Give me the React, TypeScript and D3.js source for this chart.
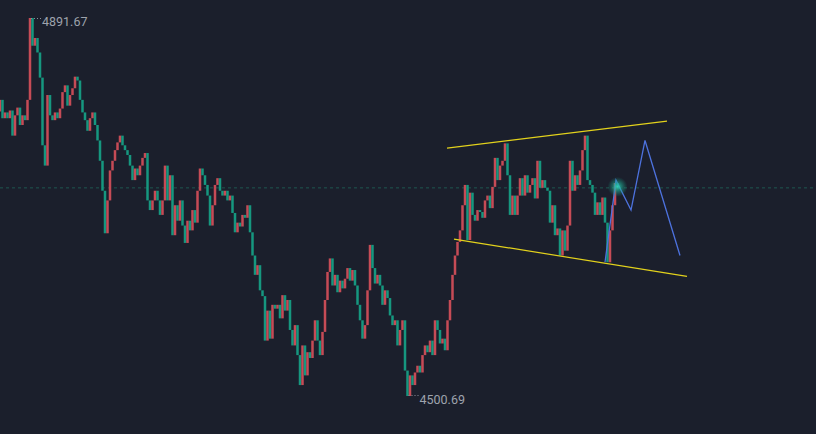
import React from "react";
import * as d3 from "d3";

const firstOpen = 4795;
const closes: number[] = [
  4807, 4788, 4794, 4788, 4796, 4770, 4791, 4799, 4781, 4791,
  4786, 4807, 4891.67, 4863, 4871, 4856, 4830, 4760, 4739, 4812,
  4791, 4786, 4794, 4788, 4798, 4815, 4822, 4801, 4812, 4819,
  4831, 4827, 4807, 4794, 4786, 4775, 4788, 4794, 4781, 4765,
  4744, 4713, 4669, 4703, 4734, 4744, 4755, 4763, 4770, 4760,
  4755, 4750, 4739, 4724, 4736, 4729, 4739, 4747, 4752, 4703,
  4693, 4703, 4713, 4703, 4688, 4703, 4739, 4703, 4729, 4667,
  4698, 4682, 4703, 4677, 4659, 4682, 4672, 4693, 4680, 4713,
  4736, 4729, 4719, 4708, 4677, 4698, 4719, 4726, 4713, 4708,
  4713, 4703, 4708, 4690, 4670, 4680, 4676, 4688, 4685, 4698,
  4670, 4646, 4626, 4636, 4610, 4604, 4558, 4589, 4560, 4595,
  4591, 4595, 4581, 4605, 4589, 4600, 4569, 4553, 4574, 4543,
  4512, 4553, 4522, 4546, 4540, 4558, 4579, 4558, 4543, 4567,
  4600, 4629, 4643, 4615, 4626, 4608, 4620, 4612, 4622, 4633,
  4620, 4631, 4615, 4595, 4579, 4560, 4574, 4610, 4657, 4633,
  4617, 4626, 4615, 4595, 4610, 4602, 4584, 4574, 4579, 4553,
  4569, 4579, 4527, 4500.69, 4522, 4512, 4525, 4532, 4525, 4543,
  4553, 4546, 4558, 4543, 4579, 4569, 4555, 4560, 4548, 4579,
  4600, 4626, 4646, 4660, 4672, 4698, 4719, 4662, 4711, 4688,
  4682, 4693, 4691, 4685, 4703, 4708, 4695, 4717, 4747, 4724,
  4739, 4744, 4762, 4729, 4688, 4708, 4688, 4708, 4726, 4708,
  4729, 4711, 4719, 4726, 4705, 4744, 4716, 4724, 4716, 4713,
  4680, 4698, 4667, 4674, 4646, 4672, 4651, 4677, 4744, 4713,
  4729, 4719, 4734, 4755, 4770, 4724, 4719, 4711, 4688, 4701,
  4688, 4706, 4680, 4639, 4672, 4698, 4721, 4717,
];

const highLabel = "4891.67";
const lowLabel = "4500.69";

// channel annotations: [candle index, price]
const upperChannel: [number, number][] = [[178.8, 4757], [266.8, 4785]];
const lowerChannel: [number, number][] = [[181.6, 4663], [274.8, 4624.5]];
const projection: [number, number][] = [
  [242, 4639], [246.4, 4724], [252.4, 4693], [258, 4765], [272, 4646],
];

const W = 816;
const H = 434;
const BG = "#1b1f2c";
const UP = "#c64b56";
const DOWN = "#16977f";

export default function App() {
  const candles = closes.map((c, i) => ({
    i,
    open: i === 0 ? firstOpen : closes[i - 1],
    close: c,
  }));
  const step = 2.5;
  const x = d3
    .scaleBand<number>()
    .domain(candles.map((d) => d.i))
    .range([-step / 2, -step / 2 + step * candles.length])
    .paddingInner(0);
  const xi = d3.scaleLinear().domain([0, 1]).range([0, step]);
  const y = d3.scaleLinear().domain([4500.69, 4891.67]).range([396, 18]);
  const bw = x.bandwidth();

  const hiIdx = closes.indexOf(d3.max(closes)!);
  const loIdx = closes.indexOf(d3.min(closes)!);
  const last = candles[candles.length - 1];
  const lastX = xi(last.i);
  const lastY = y(last.close);

  const line = d3
    .line<[number, number]>()
    .x((d) => xi(d[0]))
    .y((d) => y(d[1]));

  return (
    <svg
      width={W}
      height={H}
      style={{ position: "fixed", left: 0, top: 0, background: BG, display: "block" }}
    >
      <defs>
        <radialGradient id="glow">
          <stop offset="0%" stopColor="#33d8b8" stopOpacity={0.95} />
          <stop offset="40%" stopColor="#1fae95" stopOpacity={0.6} />
          <stop offset="100%" stopColor="#16977f" stopOpacity={0} />
        </radialGradient>
      </defs>
      <rect width={W} height={H} fill={BG} />
      <line
        x1={0}
        x2={W}
        y1={lastY + 1}
        y2={lastY + 1}
        stroke="#1f5751"
        strokeWidth={1}
        strokeDasharray="3 3"
      />
      {candles.map((d) => {
        const top = y(Math.max(d.open, d.close));
        const bot = y(Math.min(d.open, d.close));
        return (
          <rect
            key={d.i}
            x={x(d.i)}
            y={top}
            width={bw}
            height={Math.max(1, bot - top)}
            fill={d.close >= d.open ? UP : DOWN}
          />
        );
      })}
      <path d={line(upperChannel)!} stroke="#e3d21c" strokeWidth={1.2} fill="none" />
      <path d={line(lowerChannel)!} stroke="#e3d21c" strokeWidth={1.2} fill="none" />
      <path d={line(projection)!} stroke="#4d72de" strokeWidth={1.3} fill="none" />
      <circle cx={lastX} cy={lastY} r={10} fill="url(#glow)" />
      <line
        x1={xi(hiIdx) + 1}
        x2={xi(hiIdx) + 11}
        y1={y(closes[hiIdx]) + 0.5}
        y2={y(closes[hiIdx]) + 0.5}
        stroke="#8a8f99"
        strokeDasharray="1 2"
      />
      <text
        x={xi(hiIdx) + 12}
        y={y(closes[hiIdx]) + 8}
        fill="#9ea3ad"
        fontSize={12.5}
        fontFamily="Roboto, 'Open Sans', sans-serif"
      >
        {highLabel}
      </text>
      <line
        x1={xi(loIdx) + 1}
        x2={xi(loIdx) + 11}
        y1={y(closes[loIdx]) - 0.5}
        y2={y(closes[loIdx]) - 0.5}
        stroke="#8a8f99"
        strokeDasharray="1 2"
      />
      <text
        x={xi(loIdx) + 12}
        y={y(closes[loIdx]) + 8}
        fill="#9ea3ad"
        fontSize={12.5}
        fontFamily="Roboto, 'Open Sans', sans-serif"
      >
        {lowLabel}
      </text>
    </svg>
  );
}
